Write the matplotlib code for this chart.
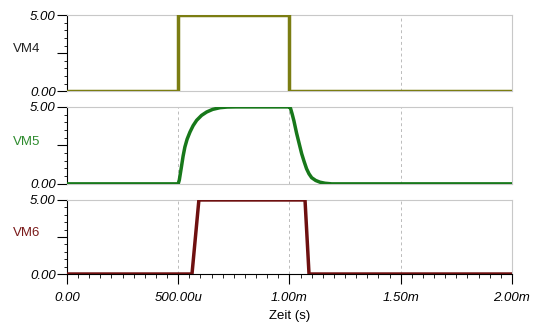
import matplotlib.pyplot as plt
from matplotlib.ticker import MultipleLocator

# Zeitachse in ms, Spannungen in V
t_vm4 = [0.0, 0.5, 0.5, 1.0, 1.0, 2.0]
vm4 = [0.0, 0.0, 5.0, 5.0, 0.0, 0.0]

t_vm5 = [0.0, 0.500, 0.505, 0.510, 0.515, 0.522, 0.530, 0.540, 0.553, 0.567,
         0.583, 0.605, 0.628, 0.655, 0.688, 0.720, 0.760,
         1.000, 1.005, 1.012, 1.020, 1.032, 1.044, 1.055, 1.066, 1.077, 1.088,
         1.100, 1.118, 1.137, 1.160, 1.190, 2.0]
vm5 = [0.0, 0.0, 0.25, 0.70, 1.15, 1.80, 2.39, 2.90, 3.37, 3.78,
       4.13, 4.45, 4.67, 4.84, 4.95, 4.99, 5.0,
       5.0, 4.90, 4.55, 4.10, 3.30, 2.60, 1.96, 1.45, 0.98, 0.65,
       0.40, 0.22, 0.11, 0.04, 0.0, 0.0]

t_vm6 = [0.0, 0.562, 0.593, 1.070, 1.088, 2.0]
vm6 = [0.0, 0.0, 5.0, 5.0, 0.0, 0.0]

x_ticks = [0.0, 0.5, 1.0, 1.5, 2.0]
x_labels = ['0.00', '500.00u', '1.00m', '1.50m', '2.00m']

plt.rcParams['font.family'] = ['Liberation Sans', 'DejaVu Sans']

fig = plt.figure(figsize=(5.4, 3.22), dpi=100)
left, width = 0.124, 0.824
boxes = [(0.717, 0.236), (0.429, 0.239), (0.149, 0.230)]
series = [
    (t_vm4, vm4, '#7b7d12', 'VM4', '#222222'),
    (t_vm5, vm5, '#17781a', 'VM5', '#2e8b2e'),
    (t_vm6, vm6, '#6e1010', 'VM6', '#7a1a1a'),
]

for i, ((bottom, height), (t, v, col, name, lab_col)) in enumerate(zip(boxes, series)):
    ax = fig.add_axes([left, bottom, width, height])
    ax.plot(t, v, color=col, lw=2.5, solid_joinstyle='miter', zorder=3)
    ax.set_xlim(0, 2.0)
    ax.set_ylim(0, 5.0)

    for xg in [0.5, 1.0, 1.5]:
        ax.axvline(xg, color='#bbbbbb', lw=0.7, ls=(0, (3, 3)), zorder=1)

    for s in ['top', 'right']:
        ax.spines[s].set_color('#c8c8c8')
    ax.spines['left'].set_color('black')

    ax.set_yticks([0, 2.5, 5.0])
    ax.set_yticklabels(['0.00', '', '5.00'], fontstyle='italic', fontsize=9.5)
    ax.yaxis.set_minor_locator(MultipleLocator(0.5))
    ax.tick_params(axis='y', which='major', length=7, width=0.8, pad=1)
    ax.tick_params(axis='y', which='minor', length=2, width=0.6)

    ax.set_ylabel(name, rotation=0, fontsize=9.5, color=lab_col, va='center', ha='center')
    ax.yaxis.set_label_coords(-0.09, 0.55)

    ax.set_xticks(x_ticks)
    if i < 2:
        ax.spines['bottom'].set_color('#c8c8c8')
        ax.tick_params(axis='x', which='both', length=0, labelbottom=False)
    else:
        ax.spines['bottom'].set_color('black')
        ax.xaxis.set_minor_locator(MultipleLocator(0.05))
        ax.set_xticklabels(x_labels, fontstyle='italic', fontsize=9.5)
        ax.tick_params(axis='x', which='major', length=7, width=0.8, pad=6)
        ax.tick_params(axis='x', which='minor', length=3, width=0.6)
        ax.set_xlabel('Zeit (s)', fontsize=9.5, labelpad=4)

fig.savefig('out.png', dpi=100)
